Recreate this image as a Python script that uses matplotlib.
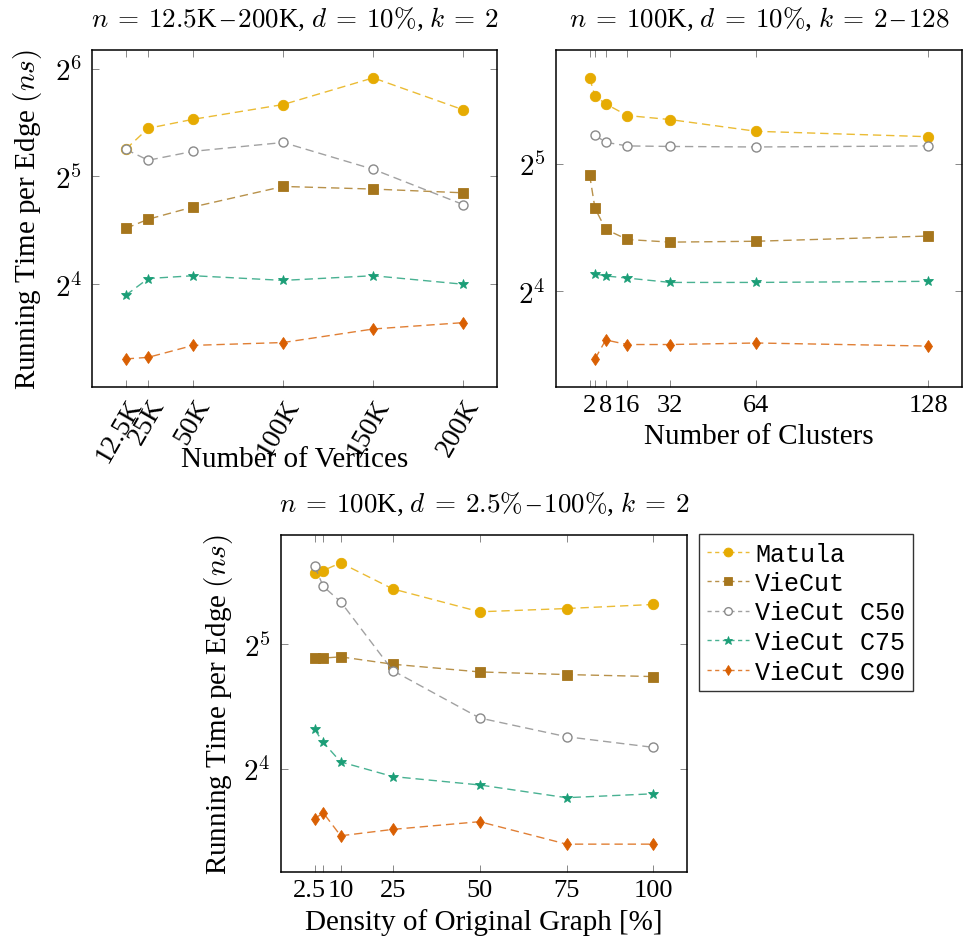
import numpy as np
import matplotlib
matplotlib.use("Agg")
import matplotlib.pyplot as plt
from matplotlib.ticker import FixedLocator, FuncFormatter, NullLocator
from matplotlib.lines import Line2D
from matplotlib.colors import to_rgba
from matplotlib.transforms import ScaledTranslation

plt.rcParams['mathtext.fontset'] = 'cm'
plt.rcParams['font.family'] = ['Liberation Serif', 'DejaVu Serif']

# ---- data: running time per edge (ns) ----
series_names = ['Matula', 'VieCut', 'VieCut C50', 'VieCut C75', 'VieCut C90']

# varying number of vertices (n in thousands)
vertices = [12.5, 25, 50, 100, 150, 200]
vertex_labels = ['12.5K', '25K', '50K', '100K', '150K', '200K']
vert_matula = [38.1, 43.6, 46.2, 50.8, 60.3, 49.1]
vert_viecut = [22.9, 24.3, 26.3, 30.0, 29.5, 28.8]
vert_c50 = [38.1, 35.5, 37.6, 39.8, 33.5, 26.7]
vert_c75 = [14.9, 16.6, 16.9, 16.4, 16.9, 16.0]
vert_c90 = [9.9, 10.0, 10.8, 11.0, 12.0, 12.5]

# varying number of clusters k
clusters = [2, 4, 8, 16, 32, 64, 128]
cluster_labels = ['2', '', '8', '16', '32', '64', '128']
clus_matula = [50.9, 46.1, 44.2, 41.5, 40.6, 38.1, 37.0]
clus_viecut = [30.1, 25.1, 22.4, 21.2, 20.9, 21.0, 21.6]
clus_c50 = [None, 37.3, 35.9, 35.2, 35.1, 35.0, 35.2]
clus_c75 = [None, 17.6, 17.4, 17.2, 16.8, 16.8, 16.9]
clus_c90 = [None, 11.1, 12.3, 12.0, 12.0, 12.1, 11.9]

# varying density of the original graph (%)
density = [2.5, 5, 10, 25, 50, 75, 100]
density_labels = ['2.5', '', '10', '25', '50', '75', '100']
dens_matula = [47.5, 48.2, 50.3, 43.5, 38.3, 39.0, 39.9]
dens_viecut = [29.6, 29.6, 29.8, 28.6, 27.4, 27.0, 26.7]
dens_c50 = [49.4, 44.1, 40.5, 27.6, 21.2, 19.1, 18.0]
dens_c75 = [19.9, 18.5, 16.6, 15.3, 14.6, 13.6, 13.9]
dens_c90 = [12.1, 12.5, 11.0, 11.4, 11.9, 10.5, 10.5]

styles = {
    'Matula':     dict(color='#E6AB02', marker='o', ms=7.5, fill=True),
    'VieCut':     dict(color='#A6761D', marker='s', ms=7.5, fill=True),
    'VieCut C50': dict(color='#8a8a8a', marker='o', ms=6.5, fill=False),
    'VieCut C75': dict(color='#1B9E77', marker='*', ms=7.5, fill=True),
    'VieCut C90': dict(color='#D95F02', marker='d', ms=6.5, fill=True),
}

YTICK_FS = 21
XTICK_FS = 19
ROT_FS = 20
LABEL_FS = 21
TITLE_FS = 19.5


def draw_series(ax, x, y, name):
    st = styles[name]
    pts = [(a, b) for a, b in zip(x, y) if b is not None]
    xs = [p[0] for p in pts]
    ys = [p[1] for p in pts]
    ax.plot(xs, ys, linestyle=(0, (6, 3.5)), lw=1.0,
            color=to_rgba(st['color'], 0.8),
            marker=st['marker'], ms=st['ms'],
            mfc=st['color'] if st['fill'] else 'white',
            mec=st['color'], mew=1.0 if not st['fill'] else 0.6,
            zorder=3)


def style_axes(ax, xs, xlabels, all_y):
    ax.set_yscale('log', base=2)
    # 10 % enlargement of the data range on both axes
    lo, hi = min(xs), max(xs)
    pad = 0.1 * (hi - lo)
    ax.set_xlim(lo - pad, hi + pad)
    vals = np.log2([v for v in all_y if v is not None])
    ylo, yhi = vals.min(), vals.max()
    ypad = 0.1 * (yhi - ylo)
    ax.set_ylim(2 ** (ylo - ypad), 2 ** (yhi + ypad))
    ax.xaxis.set_major_locator(FixedLocator(xs))
    ax.set_xticklabels(xlabels)
    ax.xaxis.set_minor_locator(NullLocator())
    exps = [e for e in range(2, 8) if ylo - ypad <= e <= yhi + ypad]
    ax.yaxis.set_major_locator(FixedLocator([2 ** e for e in exps]))
    ax.yaxis.set_major_formatter(FuncFormatter(
        lambda v, p: r'$2^{%d}$' % int(round(np.log2(v)))))
    ax.yaxis.set_minor_locator(NullLocator())
    ax.tick_params(direction='in', top=True, right=True, length=5,
                   width=0.7, color='#888888', pad=7)
    ax.tick_params(axis='y', labelsize=YTICK_FS)
    ax.tick_params(axis='x', labelsize=XTICK_FS, pad=5)
    for s in ax.spines.values():
        s.set_linewidth(1.1)


DASH = r'$\,$–$\,$'


def title_text(n, d, k):
    return n + r',$\;$' + d + r',$\;$' + k


fig = plt.figure(figsize=(9.68, 9.45), dpi=100)

# ---- top left: number of vertices ----
ax1 = fig.add_axes([0.0950, 0.5894, 0.4184, 0.3569])
for name, ys in zip(series_names, [vert_matula, vert_viecut, vert_c50, vert_c75, vert_c90]):
    draw_series(ax1, vertices, ys, name)
style_axes(ax1, vertices, vertex_labels,
           vert_matula + vert_viecut + vert_c50 + vert_c75 + vert_c90)
for lbl in ax1.get_xticklabels():
    lbl.set_rotation(60)
    lbl.set_ha('right')
    lbl.set_va('top')
    lbl.set_rotation_mode('anchor')
    lbl.set_fontsize(ROT_FS)
ax1.set_title(title_text(r'$n\:=\:12.5$K' + DASH + r'$200$K', r'$d\:=\:10\%$', r'$k\:=\:2$'),
              fontsize=TITLE_FS, pad=17)
ax1.set_xlabel('Number of Vertices', fontsize=LABEL_FS)
ax1.xaxis.set_label_coords(0.5, -0.214)
ax1.xaxis.label.set_va('center')
ax1.set_ylabel(r'Running Time per Edge $(ns)$', fontsize=LABEL_FS)
ax1.yaxis.set_label_coords(-0.158, 0.5)
ax1.yaxis.label.set_va('center')

# ---- top right: number of clusters ----
ax2 = fig.add_axes([0.5741, 0.5894, 0.4200, 0.3569])
for name, ys in zip(series_names, [clus_matula, clus_viecut, clus_c50, clus_c75, clus_c90]):
    draw_series(ax2, clusters, ys, name)
style_axes(ax2, clusters, cluster_labels,
           clus_matula + clus_viecut + clus_c50 + clus_c75 + clus_c90)
ax2.set_title(title_text(r'$n\:=\:100$K', r'$d\:=\:10\%$', r'$k\:=\:2$' + DASH + r'$128$'),
              fontsize=TITLE_FS, pad=17)
ax2.set_xlabel('Number of Clusters', fontsize=LABEL_FS)
ax2.xaxis.set_label_coords(0.5, -0.145)
ax2.xaxis.label.set_va('center')

# ---- bottom: density of the original graph ----
ax3 = fig.add_axes([0.2900, 0.0759, 0.4200, 0.3572])
for name, ys in zip(series_names, [dens_matula, dens_viecut, dens_c50, dens_c75, dens_c90]):
    draw_series(ax3, density, ys, name)
style_axes(ax3, density, density_labels,
           dens_matula + dens_viecut + dens_c50 + dens_c75 + dens_c90)
# nudge the crowded first label a little to the left
first = ax3.get_xticklabels()[0]
first.set_transform(first.get_transform() +
                    ScaledTranslation(-5 / 100, 0, fig.dpi_scale_trans))
ax3.set_title(title_text(r'$n\:=\:100$K', r'$d\:=\:2.5\%$' + DASH + r'$100\%$', r'$k\:=\:2$'),
              fontsize=TITLE_FS, pad=17)
ax3.set_xlabel('Density of Original Graph [%]', fontsize=LABEL_FS)
ax3.xaxis.set_label_coords(0.5, -0.147)
ax3.xaxis.label.set_va('center')
ax3.set_ylabel(r'Running Time per Edge $(ns)$', fontsize=LABEL_FS)
ax3.yaxis.set_label_coords(-0.154, 0.5)
ax3.yaxis.label.set_va('center')

# ---- legend ----
handles = []
for name in series_names:
    st = styles[name]
    handles.append(Line2D([], [], linestyle=(0, (3, 2.5)), lw=1.0,
                          color=to_rgba(st['color'], 0.8),
                          marker=st['marker'], ms=st['ms'] * 0.85,
                          mfc=st['color'] if st['fill'] else 'white',
                          mec=st['color'], mew=1.0 if not st['fill'] else 0.6))
leg = fig.legend(handles, series_names, loc='upper left',
                 bbox_to_anchor=(699 / 968, 1 - 535 / 945),
                 prop=dict(family='Liberation Mono', size=18),
                 frameon=True, fancybox=False, edgecolor='black',
                 handlelength=1.7, handletextpad=0.25, borderpad=0.3,
                 labelspacing=0.22, borderaxespad=0)
leg.get_frame().set_linewidth(1.0)

fig.savefig('out.png', dpi=100)
